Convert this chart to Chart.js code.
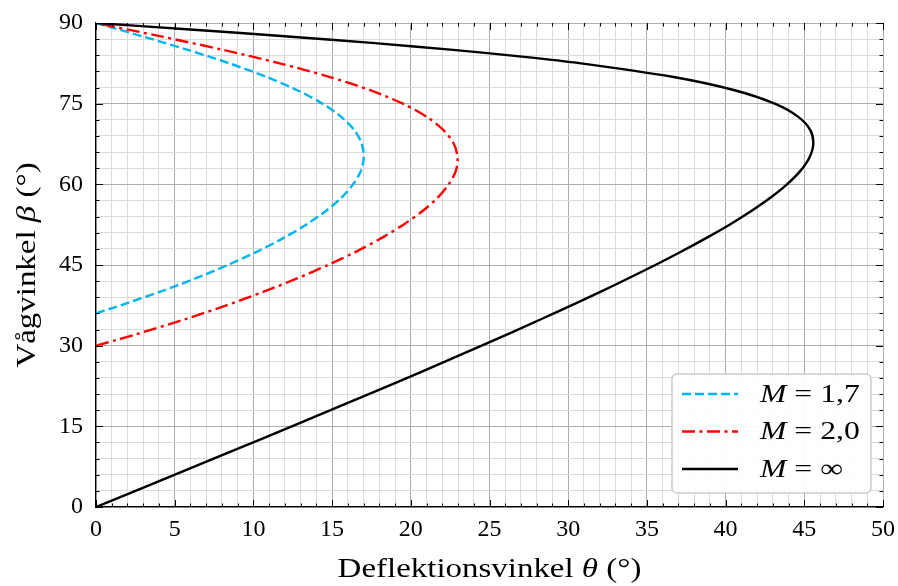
<!DOCTYPE html>
<html>
<head>
<meta charset="utf-8">
<script src="https://cdn.jsdelivr.net/npm/chart.js@4"></script>
<style>
  html, body { margin: 0; padding: 0; background: #fff; }
  #wrap { width: 898px; height: 586px; }
</style>
</head>
<body>
<div id="wrap"><canvas id="chart" width="898" height="586"></canvas></div>
<script>
// shock angle beta (deg) vs deflection angle theta (deg)
const betaM17  = [36.03, 37, 38, 40, 42.5, 45, 47.5, 50, 52.5, 55, 57.5, 60, 62.5, 65, 67.5, 70, 72.5, 75, 77.5, 80, 82.5, 85, 87.5, 90];
const thetaM17 = [0, 1.04, 2.07, 4.04, 6.31, 8.37, 10.24, 11.90, 13.35, 14.58, 15.59, 16.33, 16.83, 17.01, 16.89, 16.43, 15.60, 14.39, 12.79, 10.81, 8.47, 5.83, 2.97, 0];

const betaM20  = [30, 31, 32, 35, 37.5, 40, 42.5, 45, 47.5, 50, 52.5, 55, 57.5, 60, 62.5, 65, 67.5, 70, 72.5, 75, 77.5, 80, 82.5, 85, 87.5, 90];
const thetaM20 = [0, 1.23, 2.42, 5.75, 8.28, 10.62, 12.77, 14.74, 16.53, 18.13, 19.53, 20.73, 21.70, 22.41, 22.86, 22.97, 22.74, 22.11, 21.04, 19.49, 17.42, 14.81, 11.67, 8.08, 4.13, 0];

const betaInf  = [0, 5, 10, 15, 20, 25, 30, 35, 40, 45, 47.5, 50, 52.5, 55, 57.5, 60, 62.5, 65, 67.5, 70, 72.5, 75, 77.5, 80, 82.5, 83.75, 85, 86.25, 87.5, 88.75, 90];
const thetaInf = [0, 4.17, 8.32, 12.44, 16.53, 20.56, 24.50, 28.34, 32.04, 35.54, 37.19, 38.76, 40.25, 41.61, 42.84, 43.90, 44.75, 45.33, 45.57, 45.40, 44.64, 43.12, 40.57, 36.61, 30.81, 27.06, 22.69, 17.72, 12.18, 6.21, 0];

const xTickLabels = [0, 5, 10, 15, 20, 25, 30, 35, 40, 45, 50];
const yTickLabels = [0, 15, 30, 45, 60, 75, 90];

const serif = "'Liberation Serif', 'DejaVu Serif', serif";
const STRETCH = 1.22; // widen Times a bit towards the look of Computer Modern

function pts(xs, ys) {
  return xs.map((b, i) => ({ x: ys[i], y: b }));
}

// inward ticks on all four sides + axis titles + legend box
const decor = {
  id: 'decor',
  afterDraw(chart) {
    const c = chart.ctx, a = chart.chartArea;
    const sx = chart.scales.x, sy = chart.scales.y;
    c.save();
    c.strokeStyle = '#000';
    c.lineWidth = 1;
    for (let v = 0; v <= 50; v++) {
      const L = v % 5 === 0 ? 7 : 3.5;
      const px = Math.round(sx.getPixelForValue(v)) + 0.5;
      c.beginPath();
      c.moveTo(px, a.bottom); c.lineTo(px, a.bottom - L);
      c.moveTo(px, a.top); c.lineTo(px, a.top + L);
      c.stroke();
    }
    for (let v = 0; v <= 90; v += 3) {
      const L = v % 15 === 0 ? 7 : 3.5;
      const py = Math.round(sy.getPixelForValue(v)) + 0.5;
      c.beginPath();
      c.moveTo(a.left, py); c.lineTo(a.left + L, py);
      c.moveTo(a.right, py); c.lineTo(a.right - L, py);
      c.stroke();
    }

    // axis titles with italic symbols
    c.fillStyle = '#000';
    c.textBaseline = 'alphabetic';
    function seg(parts, size) {
      let w = 0;
      parts.forEach(p => { c.font = (p[1] ? 'italic ' : '') + size + 'px ' + serif; w += c.measureText(p[0]).width; });
      return w * STRETCH;
    }
    function drawParts(parts, size, x0, y0) {
      c.save();
      c.translate(x0, y0);
      c.scale(STRETCH, 1);
      let x = 0;
      parts.forEach(p => {
        c.font = (p[1] ? 'italic ' : '') + size + 'px ' + serif;
        c.fillText(p[0], x, 0);
        x += c.measureText(p[0]).width;
      });
      c.restore();
    }
    const xt = [['Deflektionsvinkel ', false], ['θ', true], [' (°)', false]];
    const xw = seg(xt, 27);
    drawParts(xt, 27, (a.left + a.right) / 2 - xw / 2, 577);

    const yt = [['Vågvinkel ', false], ['β', true], [' (°)', false]];
    const yw = seg(yt, 27);
    c.save();
    c.translate(35, (a.top + a.bottom) / 2);
    c.rotate(-Math.PI / 2);
    drawParts(yt, 27, -yw / 2, 0);
    c.restore();

    // legend
    const bx = 672, by = 374, bw = 199, bh = 119, r = 5;
    c.beginPath();
    c.moveTo(bx + r, by);
    c.arcTo(bx + bw, by, bx + bw, by + bh, r);
    c.arcTo(bx + bw, by + bh, bx, by + bh, r);
    c.arcTo(bx, by + bh, bx, by, r);
    c.arcTo(bx, by, bx + bw, by, r);
    c.closePath();
    c.fillStyle = 'rgba(255,255,255,0.92)';
    c.fill();
    c.strokeStyle = '#cccccc';
    c.lineWidth = 1.5;
    c.stroke();

    const order = [2, 1, 0];
    order.forEach((di, k) => {
      const ds = chart.data.datasets[di];
      const y = by + 20 + k * 37.5;
      c.strokeStyle = ds.borderColor;
      c.lineWidth = ds.borderWidth;
      c.setLineDash(ds.borderDash || []);
      c.beginPath();
      c.moveTo(682, y); c.lineTo(738, y);
      c.stroke();
      c.setLineDash([]);
      c.fillStyle = '#000';
      c.textBaseline = 'middle';
      drawParts([['M', true], [' = ' + ds.label, false]], 26, 760, y + 1);
    });
    c.restore();
  }
};

new Chart(document.getElementById('chart'), {
  type: 'scatter',
  data: {
    datasets: [
      {
        label: '∞',
        data: pts(betaInf, thetaInf),
        showLine: true, borderColor: '#000000', borderWidth: 2.4,
        pointRadius: 0, tension: 0.3, fill: false
      },
      {
        label: '2,0',
        data: pts(betaM20, thetaM20),
        showLine: true, borderColor: '#ff0000', borderWidth: 2.4, borderDash: [13, 4.5, 3, 4.5],
        pointRadius: 0, tension: 0.3, fill: false
      },
      {
        label: '1,7',
        data: pts(betaM17, thetaM17),
        showLine: true, borderColor: '#00b4f0', borderWidth: 2.4, borderDash: [9, 4],
        pointRadius: 0, tension: 0.3, fill: false
      }
    ]
  },
  options: {
    responsive: false,
    animation: false,
    events: [],
    layout: { padding: { left: 0, right: 15, top: 23, bottom: 0 } },
    plugins: { legend: { display: false }, tooltip: { enabled: false } },
    scales: {
      x: {
        type: 'linear', min: 0, max: 50,
        afterFit: s => { s.height = 79; s.paddingLeft = 0; s.paddingRight = 0; },
        border: { display: true, color: '#000', width: 1.2 },
        grid: {
          drawTicks: false,
          color: ctx => (ctx.tick && ctx.tick.value % 5 === 0) ? '#adadad' : '#dadada',
          lineWidth: 1
        },
        ticks: {
          stepSize: 1, autoSkip: false, maxRotation: 0, padding: 8,
          color: '#000', font: { family: serif, size: 24 },
          callback: v => xTickLabels.includes(v) ? String(v) : ''
        }
      },
      y: {
        type: 'linear', min: 0, max: 90,
        afterFit: s => { s.width = 96; s.paddingTop = 0; s.paddingBottom = 0; },
        border: { display: true, color: '#000', width: 1.2 },
        grid: {
          drawTicks: false,
          color: ctx => (ctx.tick && ctx.tick.value % 15 === 0) ? '#adadad' : '#dadada',
          lineWidth: 1
        },
        ticks: {
          stepSize: 3, autoSkip: false, padding: 13,
          color: '#000', font: { family: serif, size: 24 },
          callback: v => yTickLabels.includes(v) ? String(v) : ''
        }
      }
    }
  },
  plugins: [decor]
});
</script>
</body>
</html>
